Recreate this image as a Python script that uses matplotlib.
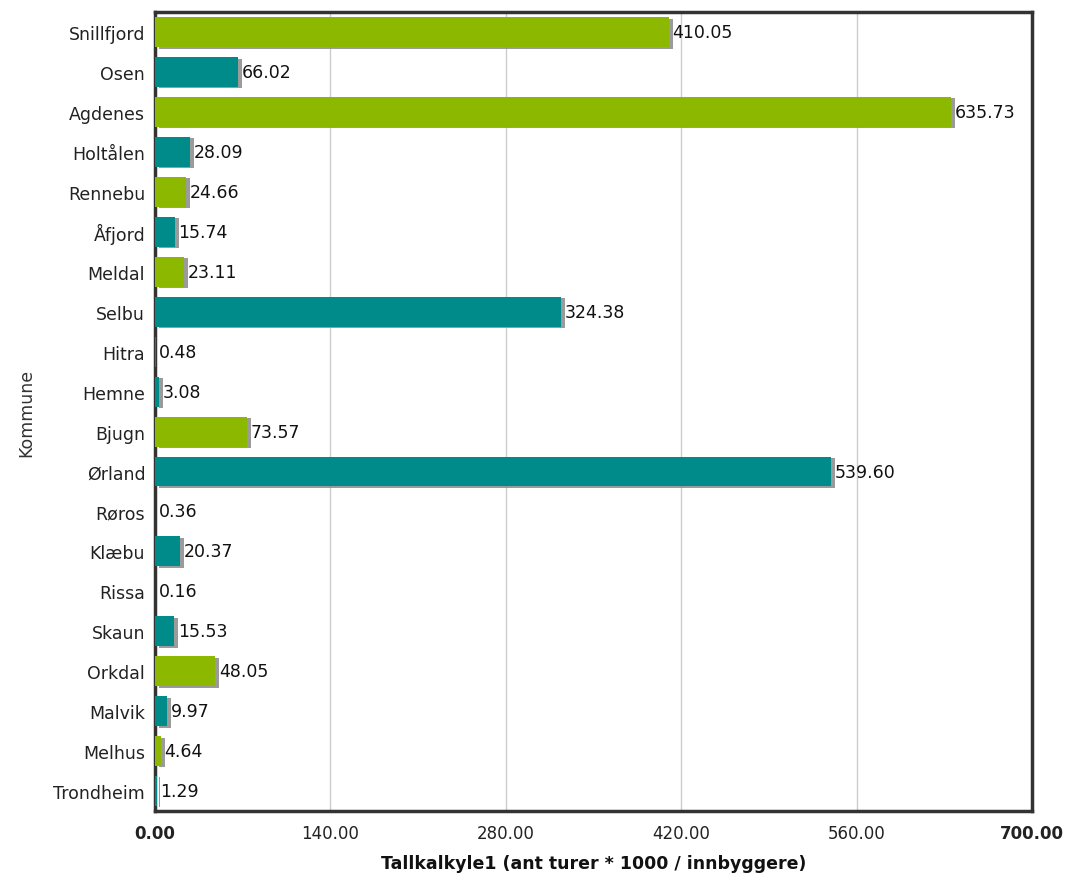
import matplotlib
matplotlib.use("Agg")
import matplotlib.pyplot as plt
import matplotlib.patheffects as pe

plt.rcParams["font.family"] = ["DejaVu Sans"]

kommuner = ["Snillfjord", "Osen", "Agdenes", "Holtålen", "Rennebu", "Åfjord", "Meldal",
            "Selbu", "Hitra", "Hemne", "Bjugn", "Ørland", "Røros", "Klæbu", "Rissa",
            "Skaun", "Orkdal", "Malvik", "Melhus", "Trondheim"]
verdier = [410.05, 66.02, 635.73, 28.09, 24.66, 15.74, 23.11, 324.38, 0.48, 3.08,
           73.57, 539.60, 0.36, 20.37, 0.16, 15.53, 48.05, 9.97, 4.64, 1.29]
gruppe = ["g", "t", "g", "t", "g", "t", "g", "t", "t", "t",
          "g", "t", "t", "t", "t", "t", "g", "t", "g", "t"]
farger = {"g": "#8cb800", "t": "#008b8b"}
xticks = [0, 140, 280, 420, 560, 700]
xticklabels = ["0.00", "140.00", "280.00", "420.00", "560.00", "700.00"]

fig = plt.figure(figsize=(10.65, 8.79), dpi=100)
ax = fig.add_axes([0.1455, 0.0762, 0.8235, 0.9088])

ypos = list(range(len(kommuner)))
shadow = [pe.SimplePatchShadow(offset=(2.8, -1.0), shadow_rgbFace="#8a8a8a", alpha=0.85), pe.Normal()]
bars = ax.barh(ypos, verdier, height=0.75, color=[farger[g] for g in gruppe],
               linewidth=0, zorder=3)
for b in bars:
    b.set_path_effects(shadow)
for y, v in zip(ypos, verdier):
    ax.annotate(f"{v:.2f}", (v, y), xytext=(2.6, 0), textcoords="offset points",
                ha="left", va="center", fontsize=12.5, color="#111111", zorder=4)

ax.set_xlim(0, 700)
ax.set_ylim(len(kommuner) - 0.5, -0.5)
ax.set_yticks(ypos)
ax.set_yticklabels(kommuner, fontsize=12.5, color="#222222")
ax.set_xticks(xticks)
ax.set_xticklabels(xticklabels, fontsize=12, color="#222222")
for i, lbl in enumerate(ax.get_xticklabels()):
    if i in (0, len(xticks) - 1):
        lbl.set_fontweight("bold")
ax.tick_params(axis="y", length=0, pad=7)
ax.tick_params(axis="x", length=0, pad=9)
ax.xaxis.grid(True, color="#cccccc", linewidth=1, zorder=0)
ax.set_axisbelow(True)
for s in ax.spines.values():
    s.set_color("#333333")
    s.set_linewidth(2.5)

ax.set_xlabel("Tallkalkyle1 (ant turer * 1000 / innbyggere)", fontsize=12.5,
              fontweight="bold", labelpad=9, color="#111111")
ax.set_ylabel("Kommune", fontsize=12.5, color="#333333")
ax.yaxis.set_label_coords(-0.137, 0.5)

fig.savefig("out.png", dpi=100, facecolor="white")
